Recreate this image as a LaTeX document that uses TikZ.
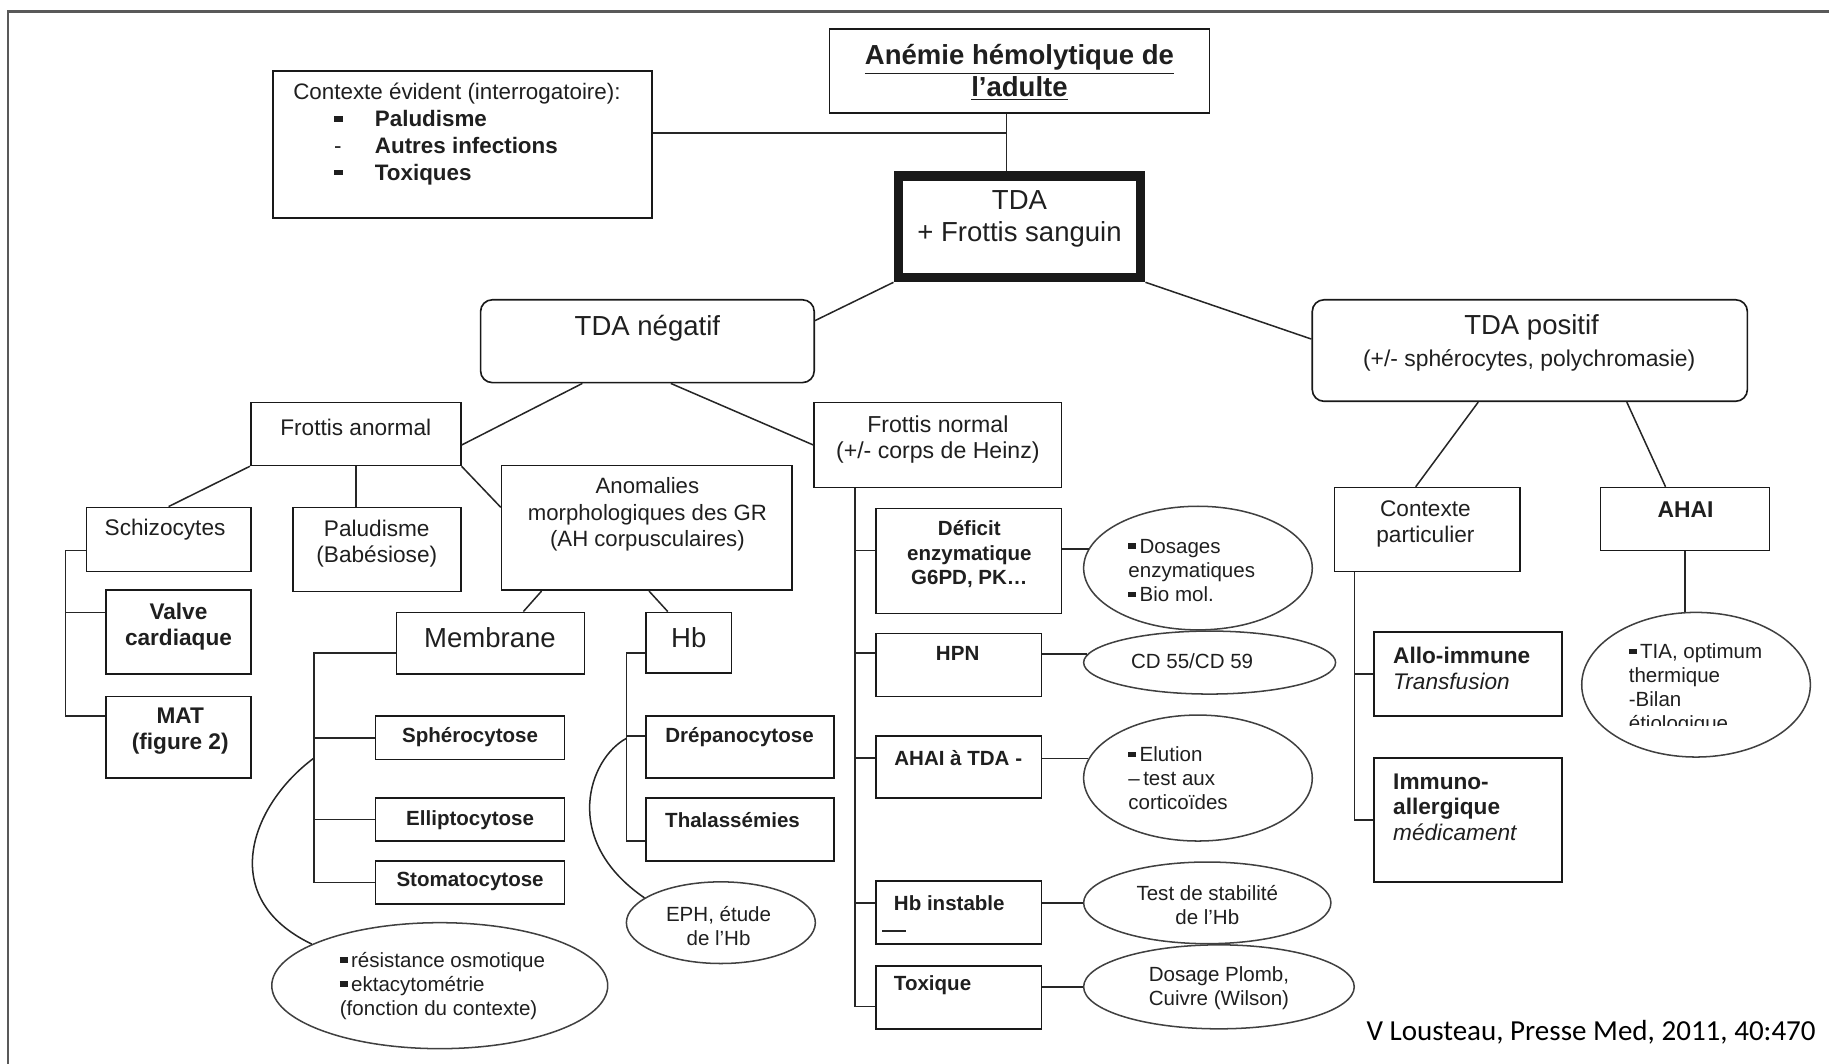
\documentclass[tikz,border=0pt]{standalone}
\usepackage{fontspec}
\setmainfont{Liberation Sans}
\newfontfamily\citefont{Carlito}
\usetikzlibrary{fit,shapes.geometric}

% small square bullet
\newcommand\sqbul{\rule[0.22em]{0.38em}{0.26em}}

\tikzset{
  box/.style={draw=black!90, line width=0.7pt, inner sep=0pt},
  rbox/.style={box, rounded corners=5pt},
  oval/.style={ellipse, draw=black!75, line width=0.65pt, inner sep=0pt},
  link/.style={draw=black!85, line width=0.65pt},
  txt/.style={inner sep=0pt, align=center, text=black!88},
  big/.style={txt, font=\fontsize{11.8}{13.5}\selectfont},
  med/.style={txt, font=\fontsize{9.7}{11}\selectfont},
  medb/.style={txt, font=\fontsize{9.7}{11}\selectfont\bfseries},
  sm/.style={txt, font=\fontsize{8.8}{10.3}\selectfont},
  smb/.style={txt, font=\fontsize{8.8}{10.3}\selectfont\bfseries},
}

\begin{document}
\begin{tikzpicture}[x=0.5pt, y=-0.5pt]
\useasboundingbox (0,0) rectangle (1568,912);

% outer frame
\draw[black!65, line width=1.1pt] (7,912) -- (7,10) -- (1568,10);

% ---------- boxes ----------
\node[box, fit={(711,25) (1037,97)}] (title) {};
\node[box, fit={(234,61) (559,187)}] (ctx) {};
\node[box, line width=4pt, fit={(770,151) (978,238)}] (tda) {};
\node[rbox, fit={(412,257) (698,328)}] (neg) {};
\node[rbox, fit={(1125,257) (1498,344)}] (pos) {};

\node[box, fit={(215,345) (395,399)}] (fa) {};
\node[box, fit={(698,345) (910,418)}] (fn) {};
\node[box, fit={(74,435) (215,490)}] (sch) {};
\node[box, fit={(251,435) (395,507)}] (pal) {};
\node[box, fit={(430,399) (679,506)}] (anom) {};
\node[box, fit={(91,506) (215,578)}] (valve) {};
\node[box, fit={(91,597) (215,667)}] (mat) {};
\node[box, fit={(340,525) (501,578)}] (mem) {};
\node[box, fit={(554,525) (627,577)}] (hb) {};
\node[box, fit={(322,614) (484,651)}] (sph) {};
\node[box, fit={(322,684) (484,721)}] (ellip) {};
\node[box, fit={(322,738) (484,775)}] (sto) {};
\node[box, fit={(554,614) (715,667)}] (drep) {};
\node[box, fit={(554,684) (715,738)}] (thal) {};

\node[box, fit={(751,436) (910,526)}] (def) {};
\node[box, fit={(751,543) (893,597)}] (hpn) {};
\node[box, fit={(751,631) (893,684)}] (ahaitda) {};
\node[box, fit={(751,755) (893,809)}] (hbi) {};
\node[box, fit={(751,828) (893,882)}] (tox) {};

\node[box, fit={(1144,418) (1303,490)}] (cp) {};
\node[box, fit={(1372,418) (1517,472)}] (ahai) {};
\node[box, fit={(1178,542) (1339,614)}] (allo) {};
\node[box, fit={(1178,650) (1339,756)}] (immuno) {};

% ---------- ovals ----------
\node[oval, minimum width=144pt, minimum height=54pt] (res) at (377,845) {};
\node[oval, minimum width=81pt, minimum height=35pt] (eph) at (618,791) {};
\node[oval, minimum width=98pt, minimum height=53pt] (dos) at (1027,487) {};
\node[oval, minimum width=108pt, minimum height=27pt] (cd) at (1037,568) {};
\node[oval, minimum width=98pt, minimum height=54pt] (elu) at (1027,667) {};
\node[oval, minimum width=106pt, minimum height=35pt] (stab) at (1035,774) {};
\node[oval, minimum width=116pt, minimum height=36pt] (plomb) at (1045,846) {};
\node[oval, minimum width=98pt, minimum height=62pt] (tia) at (1454,587) {};

% ---------- texts ----------
\node[big, font=\fontsize{11.8}{13.5}\selectfont\bfseries] (titleT) at (874,62.5)
  {\underline{Anémie hémolytique de}\\\underline{l'adulte}};
\node[txt, align=left, anchor=west, font=\fontsize{9.6}{11.5}\selectfont] (ctxT) at (251,115)
  {Contexte évident (interrogatoire):\\
   \hspace*{17.5pt}\makebox[17.5pt][l]{\sqbul}\textbf{Paludisme}\\
   \hspace*{17.5pt}\makebox[17.5pt][l]{-}\textbf{Autres infections}\\
   \hspace*{17.5pt}\makebox[17.5pt][l]{\sqbul}\textbf{Toxiques}};
\node[big] (tdaT) at (874,187.5) {TDA\\+ Frottis sanguin};
\node[big] (negT) at (555,281) {TDA négatif};
\node[big] (posT) at (1313,281) {TDA positif};
\node[txt, font=\fontsize{9.8}{11}\selectfont] (posS) at (1311,309) {(+/- sphérocytes, polychromasie)};

\node[med] (faT) at (305,366) {Frottis anormal};
\node[med, font=\fontsize{9.9}{11}\selectfont] (fnT) at (804,377) {Frottis normal\\(+/- corps de Heinz)};
\node[med] (schT) at (141.5,454) {Schizocytes};
\node[med] (palT) at (323,466) {Paludisme\\(Babésiose)};
\node[med, font=\fontsize{9.5}{11.5}\selectfont] (anomT) at (555,441)
  {Anomalies\\morphologiques des GR\\(AH corpusculaires)};
\node[medb] (valveT) at (153,537) {Valve\\cardiaque};
\node[medb] (matT) at (154.5,626.5) {MAT\\(figure 2)};
\node[big] (memT) at (420,547) {Membrane};
\node[big] (hbT) at (590.5,547) {Hb};
\node[smb] (sphT) at (403,632) {Sphérocytose};
\node[smb] (ellipT) at (403,703) {Elliptocytose};
\node[smb] (stoT) at (403,756) {Stomatocytose};
\node[smb] (drepT) at (634,632) {Drépanocytose};
\node[smb] (thalT) at (628,703) {Thalassémies};

\node[smb] (defT) at (831,475) {Déficit\\enzymatique\\G6PD, PK…};
\node[smb] (hpnT) at (821,560) {HPN};
\node[smb] (ahaitdaT) at (821.5,650) {AHAI à TDA -};
\node[smb, anchor=west] (hbiT) at (766,774) {Hb instable};
\node[anchor=west, inner sep=0pt] (hbiU) at (756,798) {\color{black!85}\rule{10pt}{0.9pt}};
\node[smb, anchor=west] (toxT) at (766,845) {Toxique};

\node[sm, align=left, anchor=west] (dosT) at (967,489) {\sqbul\,Dosages\\enzymatiques\\\sqbul\,Bio mol.};
\node[sm] (cdT) at (1022,567) {CD 55/CD 59};
\node[sm, align=left, anchor=west] (eluT) at (967,667) {\sqbul\,Elution\\–\,test aux\\corticoïdes};
\node[sm] (stabT) at (1035,776) {Test de stabilité\\de l'Hb};
\node[sm] (plombT) at (1045,847) {Dosage Plomb,\\Cuivre (Wilson)};
\node[sm] (ephT) at (616,794) {EPH, étude\\de l'Hb};
\node[sm, align=left, anchor=west] (resT) at (291,845)
  {\sqbul\,résistance osmotique\\\sqbul\,ektacytométrie\\(fonction du contexte)};

\node[med] (cpT) at (1222,449) {Contexte\\particulier};
\node[medb, font=\fontsize{9.8}{11}\selectfont\bfseries] (ahaiT) at (1445,437) {AHAI};
\node[medb, align=left, anchor=west] (alloT) at (1194,573) {Allo-immune\\\mdseries\itshape Transfusion};
\node[medb, align=left, anchor=west] (immunoT) at (1194,692) {Immuno-\\allergique\\\mdseries\itshape médicament};
\begin{scope}
  \clip (1300,500) rectangle (1600,622);
  \node[sm, align=left, anchor=west] (tiaT) at (1396,591)
    {\sqbul\,TIA, optimum\\thermique\\-Bilan\\étiologique};
\end{scope}

\node[inner sep=0pt, text=black, font=\citefont\fontsize{12.45}{14}\selectfont] (cite) at (1364,885)
  {V Lousteau, Presse Med, 2011, 40:470};

% ---------- connectors ----------
\coordinate (jn) at (863,114);
\draw[link] (title.south -| jn) -- (tda.north -| jn);
\draw[link] (ctx.east |- jn) -- (jn);

\draw[link] (tda.south west) -- (neg.7);
\draw[link] (tda.south east) -- (pos.177);

\draw[link] (neg.213) -- (fa.-6);
\draw[link] (neg.-61) -- (fn.west);

\draw[link] (fa.south west) -- (sch.north);
\draw[link] (fa.south) -- (fa.south |- pal.north);
\draw[link] (fa.south east) -- (anom.172);

\draw[link] (anom.211) -- (mem.44);
\draw[link] (anom.-88) -- (hb.124);

\draw[link] (pos.225) -- (cp.105);
\draw[link] (pos.-28) -- (ahai.121);
\draw[link] (ahai.south) -- (ahai.south |- tia.north);

% spine under Schizocytes
\coordinate (sA1) at (56,472);
\coordinate (sA2) at (56,525);
\coordinate (sA3) at (56,614);
\draw[link] (sA1 -| sch.west) -- (sA1) -- (sA3) -- (sA3 -| mat.west);
\draw[link] (sA2) -- (sA2 -| valve.west);

% spine under Membrane
\coordinate (sM1) at (269,560);
\draw[link] (sM1 -| mem.west) -- (sM1) -- (sto.west -| sM1) -- (sto.west);
\draw[link] (sph.west -| sM1) -- (sph.west);
\draw[link] (ellip.west -| sM1) -- (ellip.west);

% spine under Hb
\coordinate (sH1) at (537,560);
\coordinate (sH2) at (537,631);
\coordinate (sH3) at (537,721);
\draw[link] (sH1 -| hb.west) -- (sH1) -- (sH3) -- (sH3 -| thal.west);
\draw[link] (sH2) -- (sH2 -| drep.west);

% spine under Frottis normal
\coordinate (sN1) at (733,472);
\coordinate (sN2) at (733,560);
\coordinate (sN3) at (733,650);
\coordinate (sN4) at (733,774);
\coordinate (sN5) at (733,863);
\draw[link] (fn.south -| sN1) -- (sN5) -- (sN5 -| tox.west);
\draw[link] (sN1) -- (sN1 -| def.west);
\draw[link] (sN2) -- (sN2 -| hpn.west);
\draw[link] (sN3) -- (sN3 -| ahaitda.west);
\draw[link] (sN4) -- (sN4 -| hbi.west);

% spine under Contexte particulier
\coordinate (sC) at (1161,500);
\draw[link] (cp.south -| sC) -- (immuno.west -| sC) -- (immuno.west);
\draw[link] (allo.west -| sC) -- (allo.west);

% boxes to ovals
\draw[link] (dos.170 -| def.east) -- (dos.170);
\draw[link] (cd.176 -| hpn.east) -- (cd.176);
\draw[link] (elu.170 -| ahaitda.east) -- (elu.170);
\draw[link] (stab.west -| hbi.east) -- (stab.west);
\draw[link] (plomb.west -| tox.east) -- (plomb.west);

% curved leaders to the test ovals
\coordinate (mc) at (269,650);
\draw[link] (mc) .. controls (215,690) and (185,770) .. (res.162);
\coordinate (hc) at (537,633);
\draw[link] (hc) .. controls (505,650) and (480,720) .. (eph.162);
\end{tikzpicture}
\end{document}
